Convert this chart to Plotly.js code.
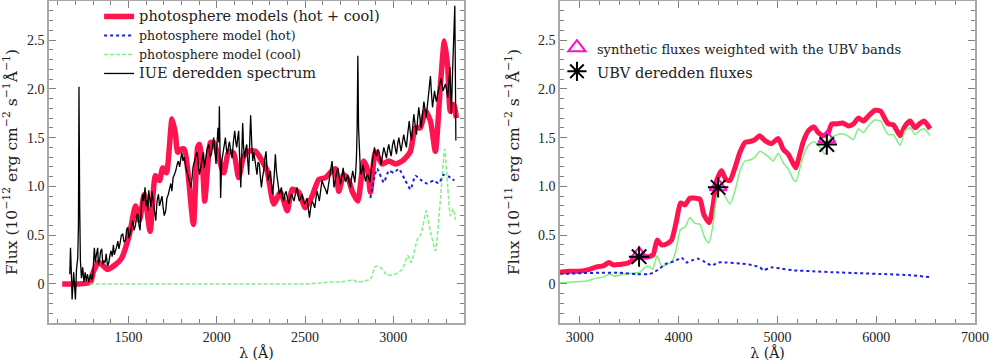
<!DOCTYPE html>
<html>
<head>
<meta charset="utf-8">
<script src="https://cdn.plot.ly/plotly-3.0.1.min.js"></script>
<style>
  html, body { margin: 0; padding: 0; background: #fff; }
  #plot { width: 991px; height: 361px; }
</style>
</head>
<body>
<div id="plot"></div>
<script>
/* Two-panel SED comparison: UV (IUE) on the left, optical UBV on the
 * right. Fluxes in 1e-12 (left) and 1e-11 (right) erg/cm2/s/A.
 */
"use strict";

// ---- left panel: UV ----------------------------------------------------
const uvTotalWl = [1125, 1285, 1300, 1330, 1350, 1380, 1420, 1460, 1506, 1540, 1562, 1590, 1623,
    1653, 1676, 1694, 1715, 1747, 1766, 1779, 1798, 1817, 1836, 1868, 1892, 1902, 1921, 1932,
    1951, 1964, 1983, 2011, 2040, 2068, 2096, 2124, 2153, 2181, 2219, 2257, 2285, 2323, 2361,
    2399, 2427, 2464, 2502, 2540, 2578, 2616, 2653, 2672, 2691, 2719, 2748, 2767, 2799, 2832,
    2855, 2870, 2899, 2937, 2974, 3012, 3050, 3068, 3097, 3125, 3153, 3182, 3210, 3238, 3267,
    3289, 3308, 3323, 3342, 3357];
const uvTotalFlux = [0, 0.02, 0.12, 0.22, 0.2, 0.15, 0.19, 0.26, 0.51, 0.8, 0.65, 0.92, 0.54,
    1.11, 1.06, 1.19, 1.14, 1.69, 1.54, 1.35, 1.38, 1.38, 1.16, 0.61, 1.4, 1.43, 1.16, 0.85,
    1.26, 1.45, 1.45, 1.29, 1.14, 1.36, 1.34, 1.09, 1.31, 1.36, 1.36, 1.26, 1.16, 0.82, 0.94,
    0.75, 0.97, 0.94, 0.78, 0.9, 1.07, 1.09, 1.16, 1.18, 0.95, 1.12, 1.06, 0.95, 0.85, 1.26,
    1.16, 0.94, 1.35, 1.23, 1.26, 1.23, 1.26, 1.29, 1.36, 1.6, 1.6, 1.77, 1.67, 1.36, 2.05,
    2.49, 2.22, 1.77, 1.84, 1.7];

const uvHotWl = [2870, 2908, 2946, 2974, 3003, 3031, 3068, 3097, 3125, 3153, 3191, 3229, 3257,
    3285, 3314, 3346];
const uvHotFlux = [0.88, 1.18, 1.04, 1.16, 1.14, 1.18, 1.06, 0.97, 1.11, 1.07, 1.03, 1.06, 1.03,
    1.12, 1.1, 1.06];

const uvCoolWl = [1280, 1500, 2000, 2500, 2590, 2644, 2700, 2774, 2795, 2832, 2870, 2899, 2927,
    2965, 3012, 3050, 3082, 3101, 3138, 3157, 3186, 3210, 3238, 3267, 3291, 3308, 3323, 3338,
    3352];
const uvCoolFlux = [0, 0, 0, 0, 0.01, 0.02, 0.02, 0.04, 0.02, 0.03, 0.05, 0.18, 0.17, 0.09, 0.1,
    0.15, 0.29, 0.22, 0.47, 0.51, 0.75, 0.54, 0.34, 0.88, 1.38, 0.99, 0.7, 0.77, 0.66];

const iueWl = [1168, 1172, 1178, 1181, 1190, 1196, 1200, 1206, 1213, 1217, 1220, 1224, 1228,
    1234, 1241, 1248, 1255, 1261, 1268, 1275, 1285, 1292, 1298, 1307, 1313, 1317, 1326, 1330,
    1336, 1342, 1349, 1355, 1360, 1368, 1374, 1382, 1389, 1396, 1402, 1408, 1415, 1420, 1426,
    1433, 1440, 1446, 1453, 1460, 1468, 1475, 1483, 1490, 1496, 1503, 1510, 1518, 1525, 1532,
    1540, 1546, 1553, 1560, 1566, 1574, 1581, 1587, 1594, 1600, 1604, 1610, 1615, 1620, 1627,
    1633, 1640, 1647, 1655, 1662, 1670, 1676, 1683, 1690, 1696, 1703, 1711, 1718, 1726, 1733,
    1740, 1746, 1753, 1760, 1768, 1775, 1783, 1790, 1796, 1802, 1809, 1816, 1825, 1832, 1840,
    1846, 1853, 1860, 1866, 1873, 1881, 1888, 1896, 1902, 1910, 1917, 1925, 1930, 1938, 1945,
    1955, 1962, 1970, 1977, 1983, 1990, 1996, 2002, 2007, 2012, 2015, 2019, 2022, 2028, 2034,
    2041, 2049, 2055, 2060, 2066, 2072, 2080, 2087, 2094, 2102, 2108, 2113, 2119, 2124, 2130,
    2136, 2142, 2147, 2152, 2158, 2164, 2170, 2176, 2181, 2186, 2192, 2198, 2204, 2210, 2215,
    2222, 2228, 2234, 2241, 2247, 2253, 2260, 2266, 2272, 2279, 2285, 2291, 2298, 2304, 2310,
    2317, 2325, 2332, 2338, 2343, 2349, 2355, 2360, 2366, 2372, 2379, 2386, 2393, 2400, 2408,
    2415, 2423, 2430, 2438, 2446, 2455, 2461, 2468, 2475, 2483, 2490, 2498, 2505, 2511, 2518,
    2525, 2532, 2540, 2548, 2555, 2562, 2568, 2575, 2581, 2588, 2596, 2604, 2612, 2618, 2625,
    2632, 2640, 2646, 2653, 2664, 2672, 2679, 2686, 2694, 2701, 2708, 2716, 2722, 2729, 2736,
    2742, 2750, 2757, 2763, 2770, 2776, 2782, 2787, 2791, 2795, 2799, 2803, 2808, 2813, 2818,
    2824, 2829, 2836, 2842, 2848, 2855, 2861, 2867, 2873, 2880, 2886, 2893, 2899, 2905, 2912,
    2918, 2925, 2931, 2939, 2946, 2954, 2961, 2968, 2974, 2981, 2988, 2995, 3003, 3010, 3018,
    3025, 3031, 3038, 3044, 3052, 3059, 3066, 3074, 3082, 3090, 3096, 3103, 3110, 3116, 3124,
    3131, 3138, 3144, 3151, 3158, 3166, 3173, 3180, 3186, 3194, 3201, 3206, 3210, 3216, 3222,
    3228, 3233, 3238, 3244, 3251, 3258, 3264, 3271, 3276, 3282, 3289, 3295, 3302, 3308, 3314,
    3320, 3325, 3329, 3334, 3339, 3344, 3348, 3351, 3354];
const iueFlux = [0.1, 0.37, 0.05, -0.16, 0.12, -0.06, -0.16, 0.15, 0.27, 0.6, 2.02, 0.8, 0.24,
    0.06, 0.17, 0.02, 0.12, 0.03, 0.1, 0.02, 0.1, 0.04, 0.08, 0.37, 0.22, 0.28, 0.37, 0.2,
    0.24, 0.33, 0.36, 0.2, 0.24, 0.22, 0.31, 0.18, 0.22, 0.3, 0.34, 0.28, 0.4, 0.3, 0.33,
    0.38, 0.44, 0.36, 0.42, 0.5, 0.51, 0.43, 0.45, 0.56, 0.58, 0.47, 0.52, 0.6, 0.65, 0.55,
    0.6, 0.7, 0.72, 0.6, 0.55, 0.8, 0.92, 0.85, 0.99, 0.8, 0.86, 0.75, 0.96, 0.88, 0.79,
    0.95, 0.85, 0.72, 0.65, 0.85, 0.92, 0.8, 0.85, 0.9, 0.79, 0.7, 0.75, 0.88, 0.92, 0.98,
    1.03, 0.95, 1.09, 1.12, 1.16, 1.22, 1.26, 1.2, 1.31, 1.35, 1.26, 1.3, 1.2, 1.15, 1.09,
    1.05, 0.99, 1.08, 1.2, 1.25, 1.3, 1.35, 1.23, 1.12, 1.2, 1.29, 1.35, 1.19, 1.28, 1.38,
    1.43, 1.3, 1.33, 1.42, 1.5, 1.36, 1.23, 1.45, 1.6, 1.45, 1.82, 1.3, 0.88, 1.25, 1.33,
    1.42, 1.5, 1.38, 1.33, 1.4, 1.46, 1.35, 1.29, 1.45, 1.57, 1.45, 1.4, 1.5, 1.57, 1.3,
    0.99, 1.35, 1.65, 1.4, 1.29, 1.38, 1.43, 1.25, 1.12, 1.4, 1.73, 1.45, 1.26, 1.35, 1.29,
    1.2, 1.12, 1.25, 1.23, 1.1, 0.99, 1.1, 1.16, 1.28, 1.36, 1.18, 1.06, 1.12, 1.16, 1.02,
    0.92, 1.1, 1.33, 1.15, 1.06, 0.98, 0.92, 0.95, 0.99, 0.9, 0.85, 0.92, 0.95, 0.88, 0.82,
    0.88, 0.92, 0.89, 0.85, 0.93, 0.99, 0.9, 0.85, 0.88, 0.92, 0.86, 0.82, 0.85, 0.88, 0.78,
    0.68, 0.78, 0.85, 0.82, 0.78, 0.88, 0.95, 0.9, 0.85, 0.95, 1.06, 1.02, 0.99, 0.96, 0.92,
    1.02, 1.12, 1.19, 1.26, 0.99, 1.09, 1.14, 1.19, 1.08, 1.02, 1.1, 1.19, 1.1, 1.05, 1.08,
    1.12, 1.04, 0.99, 1.08, 1.16, 1.1, 1.04, 1.15, 1.29, 1.6, 2.34, 1.6, 1.29, 1.18, 1.12,
    1.18, 1.22, 1.12, 1.05, 1.1, 1.12, 1.08, 1.04, 1.15, 1.26, 1.35, 1.4, 1.33, 1.31, 1.38,
    1.36, 1.28, 1.22, 1.32, 1.4, 1.34, 1.29, 1.38, 1.43, 1.36, 1.31, 1.42, 1.48, 1.4, 1.33,
    1.44, 1.5, 1.42, 1.36, 1.46, 1.53, 1.46, 1.4, 1.55, 1.67, 1.55, 1.47, 1.62, 1.74, 1.62,
    1.53, 1.7, 1.81, 1.7, 1.6, 1.75, 1.87, 1.78, 1.71, 1.85, 1.98, 2.05, 2.13, 1.95, 1.81,
    1.9, 1.98, 1.92, 1.87, 1.95, 2.01, 2.06, 2.11, 2.04, 1.98, 2.02, 2.05, 1.98, 1.91, 2.05,
    2.22, 1.95, 1.74, 2.1, 2.45, 2.7, 2.85, 2.2, 1.47];

// ---- right panel: optical ----------------------------------------------
const optTotalWl = [2800, 2900, 3000, 3100, 3170, 3236, 3297, 3338, 3405, 3473, 3523, 3574,
    3642, 3702, 3743, 3783, 3827, 3878, 3929, 3979, 4020, 4064, 4115, 4165, 4216, 4256, 4310,
    4351, 4385, 4435, 4479, 4520, 4570, 4621, 4672, 4722, 4773, 4820, 4874, 4941, 5009, 5059,
    5110, 5161, 5188, 5221, 5262, 5313, 5370, 5414, 5465, 5515, 5549, 5600, 5660, 5718, 5769,
    5819, 5870, 5920, 5988, 6045, 6089, 6123, 6174, 6241, 6292, 6343, 6393, 6437, 6484, 6545];
const optTotalFlux = [0.12, 0.13, 0.13, 0.15, 0.175, 0.185, 0.22, 0.195, 0.2, 0.21, 0.235,
    0.27, 0.28, 0.28, 0.3, 0.45, 0.4, 0.41, 0.45, 0.65, 0.83, 0.81, 0.88, 0.88, 0.87, 0.71,
    0.63, 0.82, 1.06, 1.16, 1.07, 1.06, 1.19, 1.35, 1.45, 1.46, 1.48, 1.52, 1.47, 1.44, 1.49,
    1.38, 1.33, 1.23, 1.19, 1.31, 1.46, 1.57, 1.61, 1.55, 1.52, 1.55, 1.64, 1.64, 1.65, 1.62,
    1.64, 1.7, 1.67, 1.72, 1.78, 1.77, 1.69, 1.64, 1.63, 1.52, 1.62, 1.67, 1.6, 1.64, 1.67,
    1.59];

const optCoolWl = [2800, 2933, 3068, 3169, 3236, 3304, 3355, 3439, 3540, 3608, 3659, 3702,
    3736, 3783, 3827, 3878, 3929, 3973, 4020, 4064, 4115, 4165, 4216, 4266, 4307, 4344, 4385,
    4425, 4469, 4520, 4570, 4621, 4672, 4722, 4773, 4824, 4874, 4925, 4958, 5009, 5059, 5110,
    5161, 5188, 5221, 5262, 5313, 5370, 5431, 5481, 5525, 5583, 5650, 5708, 5769, 5819, 5870,
    5920, 5988, 6045, 6089, 6123, 6174, 6241, 6292, 6343, 6393, 6437, 6484, 6545];
const optCoolFlux = [0.01, 0.02, 0.03, 0.06, 0.07, 0.1, 0.08, 0.1, 0.11, 0.12, 0.17, 0.18,
    0.15, 0.29, 0.18, 0.2, 0.22, 0.34, 0.56, 0.58, 0.68, 0.62, 0.61, 0.47, 0.42, 0.58, 0.89,
    0.99, 0.9, 0.82, 0.95, 1.16, 1.26, 1.27, 1.3, 1.36, 1.33, 1.29, 1.26, 1.34, 1.24, 1.18,
    1.07, 1.05, 1.16, 1.31, 1.42, 1.46, 1.4, 1.33, 1.48, 1.52, 1.54, 1.52, 1.48, 1.59, 1.55,
    1.62, 1.68, 1.67, 1.58, 1.53, 1.53, 1.42, 1.57, 1.6, 1.53, 1.57, 1.59, 1.52];

const optHotWl = [2800, 3000, 3200, 3400, 3574, 3692, 3743, 3810, 3878, 3962, 4030, 4081, 4131,
    4189, 4250, 4334, 4401, 4486, 4621, 4739, 4824, 4857, 4908, 4941, 5026, 5161, 5363, 5566,
    5836, 6106, 6343, 6545];
const optHotFlux = [0.1, 0.11, 0.115, 0.115, 0.1, 0.1, 0.115, 0.16, 0.21, 0.235, 0.27, 0.22,
    0.24, 0.26, 0.235, 0.19, 0.22, 0.22, 0.21, 0.195, 0.17, 0.14, 0.16, 0.17, 0.16, 0.14,
    0.13, 0.12, 0.11, 0.1, 0.09, 0.07];

const ubvWl = [3600, 4400, 5500];
const ubvSynthetic = [0.30, 1.00, 1.49];
const ubvObserved = [0.28, 0.99, 1.43];

const yTickVals = [0, 0.5, 1, 1.5, 2, 2.5];
const yTickText = ["0", "0.5", "1.0", "1.5", "2.0", "2.5"];

// ---- styling -------------------------------------------------------------
const TICKFONT = "Liberation Serif, DejaVu Serif, serif";
const FONT = "DejaVu Serif, serif";
const RED = "#ff1450";
const BLUE = "#1c1cf0";
const GREEN = "#80f080";
const FRAME = "#a8a8a8";

function axisStyle(extra) {
    return Object.assign({
        showline: true, linecolor: FRAME, linewidth: 1.5, mirror: "allticks",
        ticks: "inside", ticklen: 7, tickwidth: 1, tickcolor: "#808080",
        showgrid: false, zeroline: false,
        tickfont: { family: TICKFONT, size: 14, color: "#222" },
    }, extra);
}

function fluxTitle(exp) {
    return "Flux (10<sup>−" + exp + "</sup> erg cm<sup>−2</sup> s<sup>−1</sup>Å<sup>−1</sup>)";
}

function buildTraces() {
    const small = t => '<span style="font-size:12.5px">' + t + "</span>";
    const big = t => '<span style="font-size:14.5px">' + t + "</span>";
    return [
        // left panel
        { x: uvTotalWl, y: uvTotalFlux, type: "scatter", mode: "lines",
          name: big("photosphere models (hot + cool)"), legend: "legend", legendrank: 1,
          line: { color: RED, width: 5.5, shape: "spline", smoothing: 0.6 } },
        { x: uvCoolWl, y: uvCoolFlux, type: "scatter", mode: "lines",
          name: small("photosphere model (cool)"), legend: "legend", legendrank: 3,
          line: { color: GREEN, width: 1.5, dash: "4px,2px", shape: "spline", smoothing: 0.5 } },
        { x: uvHotWl, y: uvHotFlux, type: "scatter", mode: "lines",
          name: small("photosphere model (hot)"), legend: "legend", legendrank: 2,
          line: { color: BLUE, width: 2, dash: "dot", shape: "spline", smoothing: 0.5 } },
        { x: iueWl, y: iueFlux, type: "scatter", mode: "lines",
          name: big("IUE deredden spectrum"), legend: "legend", legendrank: 4,
          line: { color: "#000", width: 1.3 } },
        // right panel
        { x: optTotalWl, y: optTotalFlux, type: "scatter", mode: "lines",
          xaxis: "x2", yaxis: "y2", showlegend: false,
          line: { color: RED, width: 5, shape: "spline", smoothing: 0.6 } },
        { x: optCoolWl, y: optCoolFlux, type: "scatter", mode: "lines",
          xaxis: "x2", yaxis: "y2", showlegend: false,
          line: { color: GREEN, width: 1.5, shape: "spline", smoothing: 0.5 } },
        { x: optHotWl, y: optHotFlux, type: "scatter", mode: "lines",
          xaxis: "x2", yaxis: "y2", showlegend: false,
          line: { color: BLUE, width: 2, dash: "dot", shape: "spline", smoothing: 0.5 } },
        { x: ubvWl, y: ubvSynthetic, type: "scatter", mode: "markers",
          xaxis: "x2", yaxis: "y2", legend: "legend2",
          name: '<span style="font-size:13px">synthetic fluxes weighted with the UBV bands</span>',
          marker: { symbol: "triangle-up-open", size: 15, color: "#ff10c8",
                    line: { width: 2, color: "#ff10c8" } } },
        { x: ubvWl, y: ubvObserved, type: "scatter", mode: "markers",
          xaxis: "x2", yaxis: "y2", legend: "legend2",
          name: '<span style="font-size:14.5px">UBV deredden fluxes</span>',
          marker: { symbol: "asterisk-open", size: 17, color: "#000",
                    line: { width: 2, color: "#000" } } },
    ];
}

function render() {
    const xTitleFont = { family: FONT, size: 14, color: "#222" };
    const yTitleFont = { family: FONT, size: 15.5, color: "#222" };
    const layout = {
        width: 991, height: 361,
        margin: { t: 1, r: 0, b: 38, l: 0 },
        paper_bgcolor: "#fff", plot_bgcolor: "#fff",
        font: { family: FONT, color: "#222" },
        xaxis: axisStyle({
            domain: [0.0494, 0.4682], range: [1050, 3400], dtick: 500, tick0: 0,
            ticklabelstandoff: 0,
            minor: { dtick: 100, tick0: 0, ticks: "inside", ticklen: 4, tickcolor: "#808080" },
            title: { text: "λ (Å)", font: xTitleFont },
        }),
        yaxis: axisStyle({
            range: [-0.4, 2.9], tickmode: "array", tickvals: yTickVals, ticktext: yTickText,
            minor: { tickmode: "linear", dtick: 0.1, tick0: 0, ticks: "inside", ticklen: 4,
                     tickcolor: "#808080" },
            title: { text: fluxTitle(12), font: yTitleFont },
        }),
        xaxis2: axisStyle({
            domain: [0.5651, 0.9839], range: [2800, 7000], dtick: 1000, tick0: 0,
            anchor: "y2", ticklabelstandoff: 0,
            minor: { dtick: 200, tick0: 0, ticks: "inside", ticklen: 4, tickcolor: "#808080" },
            title: { text: "λ (Å)", font: xTitleFont },
        }),
        yaxis2: axisStyle({
            anchor: "x2",
            range: [-0.4, 2.9], tickmode: "array", tickvals: yTickVals, ticktext: yTickText,
            minor: { tickmode: "linear", dtick: 0.1, tick0: 0, ticks: "inside", ticklen: 4,
                     tickcolor: "#808080" },
            title: { text: fluxTitle(11), font: yTitleFont },
        }),
        legend: {
            x: 0.1, y: 0.997, xanchor: "left", yanchor: "top",
            bgcolor: "rgba(0,0,0,0)", borderwidth: 0,
            font: { family: FONT, size: 12, color: "#222" },
            traceorder: "normal",
        },
        legend2: {
            x: 0.562, y: 0.908, xanchor: "left", yanchor: "top",
            bgcolor: "rgba(0,0,0,0)", borderwidth: 0,
            font: { family: FONT, size: 16, color: "#222" },
        },
        showlegend: true,
    };
    Plotly.newPlot("plot", buildTraces(), layout, { displayModeBar: false, responsive: false });
}

render();
</script>
</body>
</html>
